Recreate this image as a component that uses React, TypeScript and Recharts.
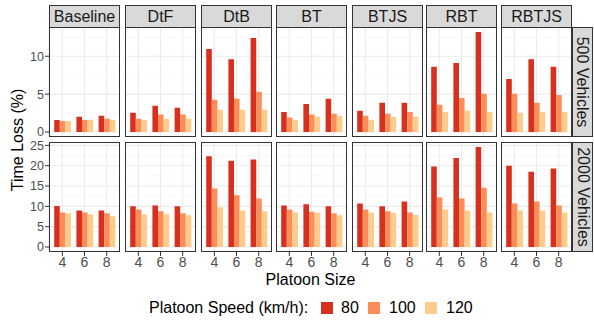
import React from 'react';
import { BarChart, Bar, XAxis, YAxis, CartesianGrid } from 'recharts';

const methods = ['Baseline', 'DtF', 'DtB', 'BT', 'BTJS', 'RBT', 'RBTJS'];
const platoonSizes = ['4', '6', '8'];
const speedLabels = ['80', '100', '120'];
const speedColors = ['#D7301F', '#FC8D59', '#FDCC8A'];

// time loss (%), one triple per method for platoon sizes 4, 6, 8
const loss500Speed80 = [[1.6, 2.0, 2.15], [2.55, 3.45, 3.2], [10.95, 9.6, 12.4], [2.65, 3.7, 4.4], [2.8, 3.85, 3.85], [8.6, 9.1, 13.2], [7.0, 9.6, 8.6]];
const loss500Speed100 = [[1.45, 1.6, 1.75], [1.75, 2.3, 2.3], [4.25, 4.4, 5.3], [1.9, 2.3, 2.4], [2.15, 2.4, 2.65], [3.6, 4.5, 5.05], [5.05, 3.85, 4.9]];
const loss500Speed120 = [[1.45, 1.6, 1.6], [1.6, 1.75, 1.75], [2.95, 2.95, 2.95], [1.6, 2.0, 2.15], [1.6, 2.0, 2.0], [2.65, 2.8, 2.65], [2.55, 2.65, 2.65]];

const loss2000Speed80 = [[10.1, 9.0, 9.0], [10.0, 10.2, 10.0], [22.3, 21.2, 21.5], [10.2, 10.5, 10.0], [10.7, 10.0, 11.2], [19.8, 21.9, 24.6], [20.0, 18.5, 19.3]];
const loss2000Speed100 = [[8.5, 8.5, 8.3], [9.25, 8.8, 8.3], [14.4, 12.7, 11.95], [9.25, 8.7, 8.3], [9.25, 8.8, 8.5], [12.2, 11.95, 14.6], [10.7, 11.2, 10.2]];
const loss2000Speed120 = [[8.3, 8.05, 7.55], [8.05, 8.05, 7.8], [9.75, 9.0, 8.8], [8.5, 8.45, 7.8], [8.5, 8.4, 7.9], [9.25, 9.0, 8.5], [9.0, 9.0, 8.5]];

const ticks500 = [0, 5, 10];
const minor500 = [2.5, 7.5, 12.5];
const ticks2000 = [0, 5, 10, 15, 20, 25];
const minor2000 = [2.5, 7.5, 12.5, 17.5, 22.5];

const rows = [
  { label: '500 Vehicles', series: [loss500Speed80, loss500Speed100, loss500Speed120], domain: [-0.66, 13.86], ticks: ticks500, minor: minor500 },
  { label: '2000 Vehicles', series: [loss2000Speed80, loss2000Speed100, loss2000Speed120], domain: [-1.23, 25.83], ticks: ticks2000, minor: minor2000 },
];

const FONT = '"Liberation Sans", Arial, sans-serif';
const PANEL_LEFT = [49, 125, 201, 276, 352, 426, 501];
const PANEL_W = 71;
const ROW_TOP = [27, 142];
const PANEL_H = 110;
const STRIP_TOP = 5;
const STRIP_H = 22;
const Y_AXIS_W = 32;
const X_AXIS_H = 22;
const PAD = 8;
const keys = ['s80', 's100', 's120'];

function Panel({ row, col }: { row: number; col: number }) {
  const r = rows[row];
  const data = platoonSizes.map((size, k) => ({
    size,
    s80: r.series[0][col][k],
    s100: r.series[1][col][k],
    s120: r.series[2][col][k],
  }));
  const showY = col === 0;
  const showX = row === 1;
  const w = PANEL_W + (showY ? Y_AXIS_W : 0);
  const h = PANEL_H + 2 * PAD + (showX ? X_AXIS_H : 0);
  return (
    <div style={{ position: 'absolute', left: PANEL_LEFT[col] - (showY ? Y_AXIS_W : 0), top: ROW_TOP[row] - PAD, width: w, height: h }}>
      <BarChart width={w} height={h} data={data} margin={{ top: PAD, right: 0, bottom: PAD, left: 0 }} barGap={0} barSize={5.6}>
        <CartesianGrid horizontalValues={r.minor} vertical={false} stroke="#F2F2F2" strokeWidth={0.6} />
        <CartesianGrid horizontalValues={r.ticks} stroke="#EBEBEB" strokeWidth={1.1} />
        <XAxis
          dataKey="size"
          hide={!showX}
          height={X_AXIS_H}
          padding={{ left: 2.2, right: 2.2 }}
          axisLine={false}
          interval={0}
          tickSize={4}
          tickMargin={1}
          tickLine={{ stroke: '#333333' }}
          tick={{ fontSize: 14, fill: '#4D4D4D', fontFamily: FONT }}
        />
        <YAxis
          type="number"
          hide={!showY}
          width={Y_AXIS_W}
          domain={r.domain}
          ticks={r.ticks}
          interval={0}
          allowDataOverflow
          axisLine={false}
          tickSize={4}
          tickMargin={1}
          tickLine={{ stroke: '#333333' }}
          tick={{ fontSize: 12.5, fill: '#4D4D4D', fontFamily: FONT }}
        />
        {keys.map((k, i) => (
          <Bar key={k} dataKey={k} fill={speedColors[i]} isAnimationActive={false} />
        ))}
      </BarChart>
      <div
        style={{
          position: 'absolute',
          left: showY ? Y_AXIS_W : 0,
          top: PAD,
          width: PANEL_W,
          height: PANEL_H,
          border: '1px solid #333333',
          boxSizing: 'border-box',
          pointerEvents: 'none',
        }}
      />
    </div>
  );
}

export default function App() {
  return (
    <div style={{ position: 'absolute', left: 0, top: 0, width: 594, height: 323, background: '#fff', fontFamily: FONT, overflow: 'hidden' }}>
      {methods.map((m, i) => (
        <div
          key={m}
          style={{
            position: 'absolute',
            left: PANEL_LEFT[i],
            top: STRIP_TOP,
            width: PANEL_W,
            height: STRIP_H + 1,
            background: '#D9D9D9',
            border: '1px solid #333333',
            boxSizing: 'border-box',
            display: 'flex',
            alignItems: 'center',
            justifyContent: 'center',
            fontSize: 16,
            color: '#1A1A1A',
          }}
        >
          {m}
        </div>
      ))}
      {rows.map((r, ri) => (
        <div
          key={r.label}
          style={{
            position: 'absolute',
            left: PANEL_LEFT[6] + PANEL_W,
            top: ROW_TOP[ri],
            width: 21,
            height: PANEL_H,
            background: '#D9D9D9',
            border: '1px solid #333333',
            boxSizing: 'border-box',
            display: 'flex',
            alignItems: 'center',
            justifyContent: 'center',
          }}
        >
          <div style={{ transform: 'rotate(90deg)', whiteSpace: 'nowrap', fontSize: 16, color: '#1A1A1A' }}>{r.label}</div>
        </div>
      ))}
      {rows.map((_, ri) => methods.map((m, ci) => <Panel key={`${ri}-${m}`} row={ri} col={ci} />))}
      <div
        style={{
          position: 'absolute',
          left: 18,
          top: 140,
          transform: 'translate(-50%, -50%) rotate(-90deg)',
          whiteSpace: 'nowrap',
          fontSize: 16,
          color: '#000',
        }}
      >
        Time Loss (%)
      </div>
      <div style={{ position: 'absolute', left: 310.5, top: 280, transform: 'translate(-50%, -50%)', whiteSpace: 'nowrap', fontSize: 16, color: '#000' }}>
        Platoon Size
      </div>
      <div style={{ position: 'absolute', left: 149, top: 308, transform: 'translateY(-50%)', whiteSpace: 'nowrap', fontSize: 16, color: '#000' }}>
        Platoon Speed (km/h):
      </div>
      {speedLabels.map((s, i) => (
        <React.Fragment key={s}>
          <div style={{ position: 'absolute', left: [321, 368, 425][i], top: 302, width: 12, height: 12, background: speedColors[i] }} />
          <div style={{ position: 'absolute', left: [341, 389, 446][i], top: 308, transform: 'translateY(-50%)', fontSize: 16, color: '#000' }}>{s}</div>
        </React.Fragment>
      ))}
    </div>
  );
}
